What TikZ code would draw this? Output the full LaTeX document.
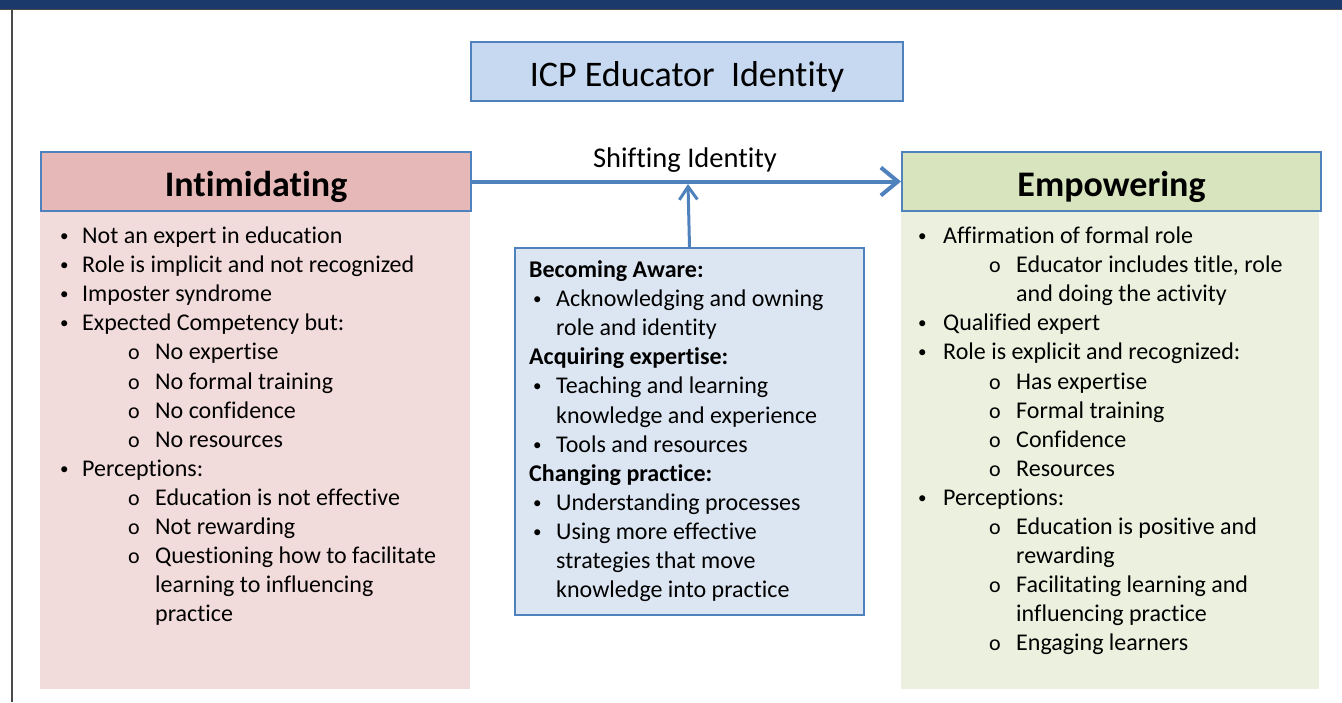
\documentclass[tikz,border=0pt]{standalone}
\usepackage{fontspec}
\setmainfont{Carlito}[RawFeature={-liga;-clig;-calt;-dlig}]
\usepackage{xcolor}
\usetikzlibrary{arrows.meta}
\definecolor{navy}{HTML}{1B3A6B}
\definecolor{framegrey}{HTML}{4A4A4A}
\definecolor{boxblue}{HTML}{4F81BD}
\definecolor{titlefill}{HTML}{C6D9F1}
\definecolor{pinkhead}{HTML}{E6B9B8}
\definecolor{pinkbody}{HTML}{F2DCDB}
\definecolor{greenhead}{HTML}{D7E4BD}
\definecolor{greenbody}{HTML}{EBF1DE}
\definecolor{midfill}{HTML}{DCE6F2}

\begin{document}
\begin{tikzpicture}[x=1pt,y=-1pt,font=\fontsize{24}{29}\selectfont]
% Box styles
\tikzstyle{head box}=[draw=boxblue,line width=2pt,inner sep=0,anchor=north west,minimum width=430pt,minimum height=59pt,text height=29pt,text depth=0pt,font=\fontsize{36}{43}\selectfont\bfseries];
\tikzstyle{body box}=[inner sep=0,anchor=north west,minimum width=430pt,minimum height=479pt];
\tikzstyle{txt}=[anchor=base west,inner sep=0];
\tikzstyle{bul}=[anchor=base west,inner sep=0,font=\fontsize{17}{20}\selectfont];
\tikzstyle{arrowline}=[draw=boxblue,line width=4pt,-{Straight Barb[length=17pt,width=28pt]}];
\useasboundingbox (0,0) rectangle (1342,702);
% Frame
\fill[navy] (0,0) rectangle (1342,9);
\draw[framegrey,line width=1pt] (0,9.5) -- (1342,9.5);
\draw[framegrey,line width=1.5pt] (12,10) -- (12,702);
% Title
\node(title)[head box,fill=titlefill,minimum width=432pt,font=\fontsize{36}{43}\selectfont] at (470,41) {ICP Educator\ \ Identity};
% The three columns
\node(lbody)[body box,fill=pinkbody] at (40,210) {};
\node(rbody)[body box,fill=greenbody,minimum width=418pt] at (901,210) {};
\node(intim)[head box,fill=pinkhead] at (40,151) {Intimidating};
\node(empow)[head box,fill=greenhead,minimum width=419pt] at (901,151) {Empowering};
\node(mid)[draw=boxblue,line width=2pt,fill=midfill,inner sep=0,anchor=north west,minimum width=349pt,minimum height=367pt] at (514,247) {};
% Arrows
\coordinate(join) at (688,184);
\draw[arrowline] (intim.east) -- (empow.west);
\draw[arrowline,line width=3pt,-{Straight Barb[length=13pt,width=18pt]}] (mid.north) -- (join);
\node(shift)[anchor=base,inner sep=0,font=\fontsize{28.5}{33}\selectfont] at (685,167) {Shifting Identity};
% Left list
\foreach \k/\t [count=\i from 0] in {1/Not an expert in education,1/Role is implicit and not recognized,1/Imposter syndrome,1/Expected Competency but:,2/No expertise,2/No formal training,2/No confidence,2/No resources,1/Perceptions:,2/Education is not effective,2/Not rewarding,2/Questioning how to facilitate,3/learning to influencing,3/practice}{
\ifcase\k\or
\node[bul](lm\i) at (60,241.5+29.1*\i) {\textbullet};
\node[txt](l\i) at (82,243.5+29.1*\i) {\t};
\or
\node[bul,font=\fontsize{22}{26}\selectfont](lm\i) at (128,243.5+29.1*\i) {o};
\node[txt](l\i) at (155,243.5+29.1*\i) {\t};
\or
\node[txt](l\i) at (155,243.5+29.1*\i) {\t};
\fi}
% Right list
\foreach \k/\t [count=\i from 0] in {1/Affirmation of formal role,2/{Educator includes title, role},3/and doing the activity,1/Qualified expert,1/Role is explicit and recognized:,2/Has expertise,2/Formal training,2/Confidence,2/Resources,1/Perceptions:,2/Education is positive and,3/rewarding,2/Facilitating learning and,3/influencing practice,2/Engaging learners}{
\ifcase\k\or
\node[bul](rm\i) at (918,241.5+29.1*\i) {\textbullet};
\node[txt](r\i) at (943,243.5+29.1*\i) {\t};
\or
\node[bul,font=\fontsize{22}{26}\selectfont](rm\i) at (989,243.5+29.1*\i) {o};
\node[txt](r\i) at (1016,243.5+29.1*\i) {\t};
\or
\node[txt](r\i) at (1016,243.5+29.1*\i) {\t};
\fi}
% Middle list
\foreach \k/\t [count=\i from 0] in {0/Becoming Aware:,1/Acknowledging and owning,2/role and identity,0/Acquiring expertise:,1/Teaching and learning,2/knowledge and experience,1/Tools and resources,0/Changing practice:,1/Understanding processes,1/Using more effective,2/strategies that move,2/knowledge into practice}{
\ifcase\k
\node[txt,font=\fontsize{24}{29}\selectfont\bfseries](m\i) at (529,277.5+29.1*\i) {\t};
\or
\node[bul](mm\i) at (533,275.5+29.1*\i) {\textbullet};
\node[txt](m\i) at (556,277.5+29.1*\i) {\t};
\or
\node[txt](m\i) at (556,277.5+29.1*\i) {\t};
\fi}
\end{tikzpicture}
\end{document}
